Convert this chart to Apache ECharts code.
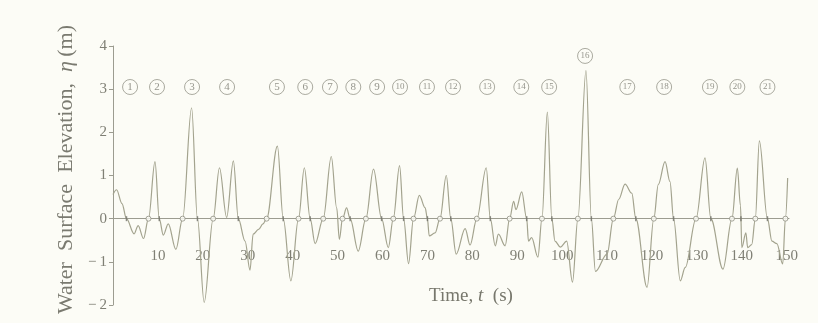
<!DOCTYPE html>
<html>
<head>
<meta charset="utf-8">
<script src="https://cdn.jsdelivr.net/npm/echarts@6/dist/echarts.min.js"></script>
<style>
html,body{margin:0;padding:0;background:#fcfcf6;}
#c{width:818px;height:323px;}
</style>
</head>
<body>
<div id="c"></div>
<script>
// Time (s) and water surface elevation (m)
var times = [0,0.8,2.0,3.0,4.7,5.6,6.8,7.9,9.35,10.3,11.2,12.3,14.0,15.5,17.5,18.8,20.3,22.3,23.7,25.3,26.8,27.9,29.4,30.5,31.2,32.4,33.4,34.2,36.6,37.9,39.6,41.3,42.6,43.9,45.0,46.8,48.6,49.8,50.4,51.1,52.0,52.8,54.6,56.3,58.0,59.8,61.3,62.4,63.8,64.7,65.8,66.9,68.2,69.5,70.0,70.4,71.7,72.8,74.2,75.2,76.4,78.4,79.5,81.0,83.1,84.0,85.1,85.8,87.3,88.3,89.2,89.7,91.0,92.1,92.5,93.2,94.6,95.5,96.7,97.7,98.4,99.6,101.0,102.3,103.5,105.3,106.5,107.4,110.0,111.4,112.6,114.0,115.5,116.4,118.9,120.4,121.4,122.9,124.0,124.8,126.3,127.4,129.8,131.8,133.1,135.8,137.8,139.0,139.7,140.0,140.9,141.3,142.2,143.0,143.9,145.7,146.7,147.8,149.1,149.7,150.2];
var elevation = [0.56,0.67,0.35,0,-0.35,-0.16,-0.46,0,1.32,0,-0.38,-0.12,-0.71,0,2.57,0,-1.94,0,1.18,0.03,1.34,0,-0.52,-1.19,-0.36,-0.25,-0.12,0,1.68,0,-1.44,0,1.18,0,-0.58,0,1.44,0.25,-0.48,0,0.25,0,-0.75,0,1.15,0,-0.67,0,1.23,0,-1.04,0,0.54,0.25,0,-0.40,-0.33,0,1.0,0,-0.82,-0.23,-0.61,0,1.18,0,-0.63,-0.36,-0.63,0,0.40,0.21,0.62,0,-0.52,-0.44,-0.89,0,2.47,0,-0.52,-0.66,-0.52,-1.47,0,3.43,0,-1.22,-0.82,0,0.45,0.80,0.59,0,-1.59,0,0.79,1.32,0.86,0,-1.44,-1.13,0,1.41,0,-1.17,0,1.17,0.3,-0.67,-0.33,-0.67,-0.6,0,1.80,0,-0.52,-0.58,-1.05,0,0.94];
// zero up-crossing and down-crossing times
var upCross = [7.9,15.5,22.3,34.2,41.3,46.8,51.1,56.3,62.4,66.9,72.8,81.0,88.3,95.5,103.5,111.4,120.4,129.8,137.8,143.0,149.7];
var downCross = [3.0,10.3,18.8,27.9,37.9,43.9,52.8,59.8,64.7,70.0,75.2,84.0,92.1,97.7,106.5,116.4,124.8,133.1,139.8,145.7];
// wave numbers and their label positions
var waveNo = [1,2,3,4,5,6,7,8,9,10,11,12,13,14,15,16,17,18,19,20,21];
var waveLabelT = [3.8,9.8,17.6,25.4,36.5,42.8,48.3,53.5,58.8,63.9,69.9,75.7,83.3,90.9,97.1,105.1,114.5,122.7,132.9,139.0,145.7];
var waveLabelY = [3.05,3.05,3.05,3.05,3.05,3.05,3.05,3.05,3.05,3.05,3.05,3.05,3.05,3.05,3.05,3.77,3.05,3.05,3.05,3.05,3.05];

var FONT = 'Liberation Serif';
var TXT = '#7f7f74';
var LINE = '#a3a38e';
var Y_MIN = -2, Y_MAX = 4, GRID_TOP = 46, GRID_H = 259;

var curve = times.map(function(t,i){return [t, elevation[i]];});
var ups = upCross.map(function(t){return [t,0];});
var downs = downCross.map(function(t){return [t,0];});
var labels = waveNo.map(function(n,i){return {value:[waveLabelT[i], waveLabelY[i]], name:String(n)};});
// shift the bottom axis up so it sits on the zero line
var zeroOffset = -GRID_H * (0 - Y_MIN) / (Y_MAX - Y_MIN);

var chart = echarts.init(document.getElementById('c'));
chart.setOption({
  backgroundColor:'#fcfcf6',
  animation:false,
  grid:{left:113, top:GRID_TOP, width:676, height:GRID_H, containLabel:false, outerBoundsMode:'none'},
  xAxis:{
    type:'value', min:0, max:150.5, interval:10, position:'bottom', offset:zeroOffset,
    axisLine:{show:true, onZero:false, lineStyle:{color:'#9c9c90', width:1}},
    axisTick:{show:false},
    splitLine:{show:false},
    axisLabel:{margin:30, color:TXT, fontFamily:FONT, fontSize:15,
      formatter:function(v){return v===0?'':String(v);}},
    name:'{a|Time, }{i|t}{a|  (s)}',
    nameLocation:'middle', nameGap:68,
    nameTextStyle:{padding:[0,0,0,40],
      rich:{a:{fontFamily:FONT,fontSize:19,color:'#77776c'},
            i:{fontFamily:FONT,fontSize:19,fontStyle:'italic',color:'#77776c'}}}
  },
  yAxis:{
    type:'value', min:Y_MIN, max:Y_MAX, interval:1,
    axisLine:{show:true, onZero:false, lineStyle:{color:'#9c9c90', width:1}},
    axisTick:{show:true, length:4, lineStyle:{color:'#9c9c90'}},
    splitLine:{show:false},
    axisLabel:{margin:6, color:TXT, fontFamily:FONT, fontSize:15,
      formatter:function(v){return v<0?'\u2212\u2009'+Math.abs(v):String(v);}},
    name:'{a|Water\u2002Surface\u2002Elevation,\u2002}{i|\u03b7}{a|\u2009(m)}',
    nameLocation:'middle', nameGap:36, nameRotate:90,
    nameTextStyle:{padding:[0,0,0,12],
      rich:{a:{fontFamily:FONT,fontSize:22,color:'#7a7a70'},
            i:{fontFamily:FONT,fontSize:22,fontStyle:'italic',color:'#7a7a70'}}}
  },
  series:[
    {type:'line', data:curve, smooth:0.35, smoothMonotone:'x', showSymbol:false,
     lineStyle:{color:LINE, width:1.2}, z:2},
    {type:'scatter', data:downs, symbol:'rect', symbolSize:[1.5,5],
     itemStyle:{color:'#6f6f66'}, z:3},
    {type:'scatter', data:ups, symbol:'circle', symbolSize:5,
     itemStyle:{color:'#fcfcf6', borderColor:'#8e8e82', borderWidth:1}, z:4},
    {type:'scatter', data:labels, symbol:'circle', symbolSize:15,
     itemStyle:{color:'rgba(0,0,0,0)', borderColor:'#8a8a7e', borderWidth:0.9},
     label:{show:true, position:'inside',
       formatter:function(p){return p.name.length>1?'{s|'+p.name+'}':p.name;},
       color:'#7a7a70', fontFamily:FONT, fontSize:11,
       rich:{s:{fontSize:9, fontFamily:FONT, color:'#7a7a70'}}},
     z:5}
  ]
});
</script>
</body>
</html>
